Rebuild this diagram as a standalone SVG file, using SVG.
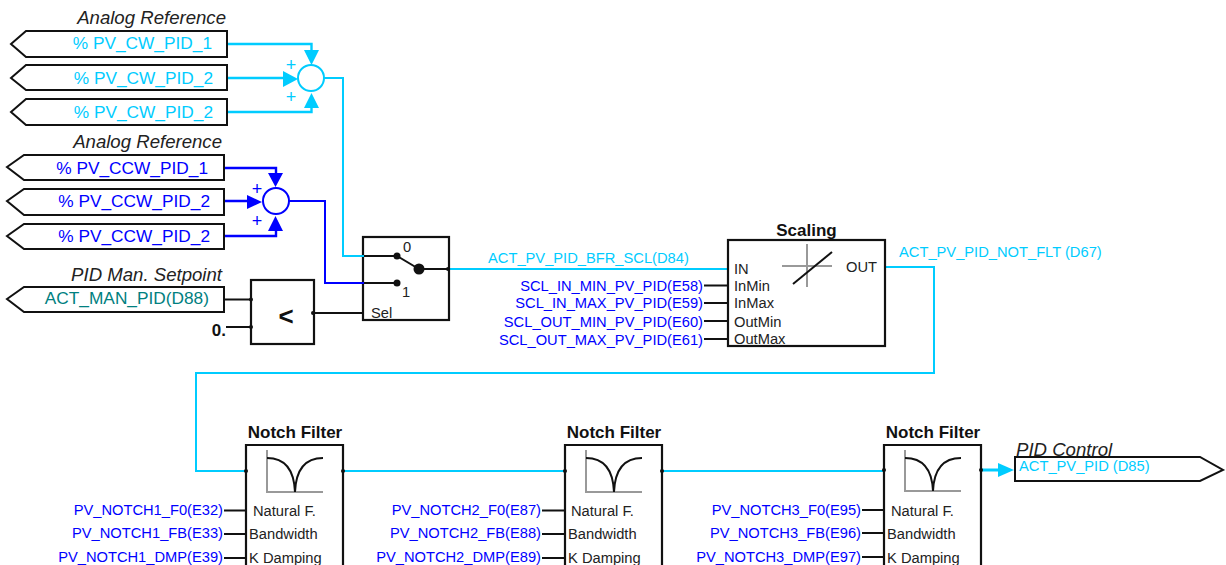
<svg xmlns="http://www.w3.org/2000/svg" width="1226" height="565" viewBox="0 0 1226 565">
<style>
text{font-family:"Liberation Sans",Arial,sans-serif;font-size:14.700px}
.it{font-style:italic;fill:#222;font-size:18.600px}
.b{font-weight:bold;fill:#111;font-size:17px}
.cy{fill:#00ccff}.bl{fill:#0000ff}.te{fill:#008080}
.k{fill:#222}.s{font-size:14.700px}
.e{text-anchor:end}
.big{font-size:17.300px}
.pl{font-size:18px;text-anchor:middle}
.tag{fill:#fff;stroke:#111;stroke-width:2}
.box{fill:#fff;stroke:#111;stroke-width:2.200}
.lc{fill:none;stroke:#00ccff;stroke-width:2}
.lb{fill:none;stroke:#0000ff;stroke-width:2}
.lk{fill:none;stroke:#111;stroke-width:1.800}
.g{fill:none;stroke:#999;stroke-width:2}
.ac{fill:#00ccff}.ab{fill:#0000ff}.d{fill:#111}
</style>
<g id="connectors">
<path class="lc" style="stroke-width:2.400" d="M227 44H311.500V52M227 78H285M227 112H311.500V106"/>
<path class="lc" d="M324 78H343V256H363"/>
<path class="lb" style="stroke-width:2.400" d="M224 168H276V175M224 201H249M224 236H276V229"/>
<path class="lb" d="M289 201H325V283H363"/>
<path class="lk" d="M224 299.500H251M226 327H251M313 313H363"/>
<path class="lc" d="M449 269H728"/>
<path class="lk" d="M704 285.500H728M704 303H728M704 321H728M704 339H728"/>
<path class="lc" d="M885 267H934V373H196V471H246"/>
<path class="lc" d="M343 471H565M662 471H884"/>
<path class="lc" style="stroke-width:3" d="M981 470H1000"/>
<path class="lk" d="M224 510.500H246M224 534H246M224 558H246M542 510.500H565M542 534H565M542 558H565M862 510H884M862 533H884M862 557H884"/>
<path class="ac" d="M304 50H319L311.500 65ZM283 71L298 79L283 87ZM304 108H319L311.500 93Z"/>
<path class="ab" d="M268 173H283L275.500 187ZM247 195L262 202L247 209ZM268 231H283L275.500 216Z"/>
<path class="ac" d="M998 463L1014 470L998 477Z"/>
</g>
<g id="sum-cw"><circle cx="311" cy="78" r="13" fill="#fff" stroke="#00ccff" stroke-width="2"/><text class="cy pl" x="291" y="71">+</text><text class="cy pl" x="291" y="103">+</text></g>
<g id="sum-ccw"><circle cx="276" cy="201" r="13" fill="#fff" stroke="#0000ff" stroke-width="2"/><text class="bl pl" x="257" y="195">+</text><text class="bl pl" x="257" y="227">+</text></g>
<g id="tags-cw">
<text class="it e" x="226" y="24">Analog Reference</text>
<path class="tag" d="M11 44L26 31H227V57H26Z"/><text class="cy e big" x="212" y="49">% PV_CW_PID_1</text>
<path class="tag" d="M11 78L26 65H227V90H26Z"/><text class="cy e big" x="213" y="84">% PV_CW_PID_2</text>
<path class="tag" d="M11 112L26 99H227V125H26Z"/><text class="cy e big" x="213" y="118">% PV_CW_PID_2</text>
</g>
<g id="tags-ccw">
<text class="it e" x="222" y="148">Analog Reference</text>
<path class="tag" d="M7 167L24 155H224V180H24Z"/><text class="bl e big" x="208" y="174">% PV_CCW_PID_1</text>
<path class="tag" d="M7 201L24 189H224V215H24Z"/><text class="bl e big" x="210" y="207">% PV_CCW_PID_2</text>
<path class="tag" d="M7 236L24 224H224V249H24Z"/><text class="bl e big" x="210" y="242">% PV_CCW_PID_2</text>
</g>
<g id="tag-man">
<text class="it e" x="222" y="281">PID Man. Setpoint</text>
<path class="tag" d="M7 299L24 287H224V312H24Z"/><text class="te e big" x="209" y="304">ACT_MAN_PID(D88)</text>
</g>
<g id="compare">
<rect class="box" x="251" y="280" width="63" height="64"/>
<text x="286" y="325" text-anchor="middle" style="font-size:26px;font-weight:bold;fill:#111">&lt;</text>
<text class="b e" x="226" y="336">0.</text>
<circle class="d" cx="251" cy="299.500" r="2"/><circle class="d" cx="251" cy="327" r="2"/><circle class="d" cx="313" cy="313" r="2"/>
</g>
<g id="selector">
<rect class="box" x="363" y="237" width="86" height="83"/>
<path class="lc" d="M362 256H364"/>
<path class="lb" d="M362 283H364"/>
<path class="lk" d="M364 256H397L419 269H449M364 283H397"/>
<circle class="d" cx="397" cy="256" r="3.500"/><circle class="d" cx="397" cy="283" r="3.500"/><circle class="d" cx="419" cy="269" r="5.500"/><circle class="d" cx="448" cy="269" r="2"/>
<text class="k s" x="403" y="252">0</text><text class="k s" x="402" y="297">1</text><text class="k s" x="371" y="318">Sel</text>
</g>
<g id="scaling">
<text class="b" x="806.500" y="236" text-anchor="middle">Scaling</text>
<rect class="box" x="728" y="240" width="157" height="106"/>
<path class="g" d="M782 266H832M807 244V287"/><path class="lk" style="stroke-width:2" d="M793 284L832 252"/>
<text class="k s" x="734" y="274">IN</text><text class="k s" x="734" y="291">InMin</text><text class="k s" x="734" y="308">InMax</text><text class="k s" x="734" y="327">OutMin</text><text class="k s" x="734" y="344">OutMax</text>
<text class="k e" x="877" y="272">OUT</text>
</g>
<g id="labels-scaling">
<text class="cy" x="488" y="263">ACT_PV_PID_BFR_SCL(D84)</text>
<text class="bl e" x="703" y="291">SCL_IN_MIN_PV_PID(E58)</text>
<text class="bl e" x="703" y="308">SCL_IN_MAX_PV_PID(E59)</text>
<text class="bl e" x="703" y="327">SCL_OUT_MIN_PV_PID(E60)</text>
<text class="bl e" x="703" y="345">SCL_OUT_MAX_PV_PID(E61)</text>
<text class="cy" x="899" y="257">ACT_PV_PID_NOT_FLT (D67)</text>
</g>
<g id="notch1">
<text class="b" x="295" y="438" text-anchor="middle">Notch Filter</text>
<path class="box" d="M246 567V445H343V567"/>
<path class="g" d="M267 450V492H323"/><path class="lk" style="stroke-width:2" d="M267 458C284 458 294 468 295 492C296 468 306 458 323 458"/>
<circle class="d" cx="246" cy="471" r="2"/><circle class="d" cx="343" cy="471" r="2"/>
<text class="k s" x="253" y="516">Natural F.</text><text class="k s" x="249" y="539">Bandwidth</text><text class="k s" x="249" y="563">K Damping</text>
<text class="bl e" x="223" y="515">PV_NOTCH1_F0(E32)</text><text class="bl e" x="223" y="538">PV_NOTCH1_FB(E33)</text><text class="bl e" x="223" y="562">PV_NOTCH1_DMP(E39)</text>
</g>
<g id="notch2">
<text class="b" x="614" y="438" text-anchor="middle">Notch Filter</text>
<path class="box" d="M565 567V445H662V567"/>
<path class="g" d="M586 450V492H642"/><path class="lk" style="stroke-width:2" d="M586 458C603 458 613 468 614 492C615 468 625 458 642 458"/>
<circle class="d" cx="565" cy="471" r="2"/><circle class="d" cx="662" cy="471" r="2"/>
<text class="k s" x="571" y="516">Natural F.</text><text class="k s" x="568" y="539">Bandwidth</text><text class="k s" x="568" y="563">K Damping</text>
<text class="bl e" x="541" y="515">PV_NOTCH2_F0(E87)</text><text class="bl e" x="541" y="538">PV_NOTCH2_FB(E88)</text><text class="bl e" x="541" y="562">PV_NOTCH2_DMP(E89)</text>
</g>
<g id="notch3">
<text class="b" x="933" y="438" text-anchor="middle">Notch Filter</text>
<path class="box" d="M884 567V445H981V567"/>
<path class="g" d="M905 450V491H961"/><path class="lk" style="stroke-width:2" d="M905 458C922 458 932 468 933 491C934 468 944 458 961 458"/>
<circle class="d" cx="884" cy="470" r="2"/><circle class="d" cx="981" cy="470" r="2"/>
<text class="k s" x="891" y="516">Natural F.</text><text class="k s" x="887" y="539">Bandwidth</text><text class="k s" x="887" y="563">K Damping</text>
<text class="bl e" x="861" y="515">PV_NOTCH3_F0(E95)</text><text class="bl e" x="861" y="538">PV_NOTCH3_FB(E96)</text><text class="bl e" x="861" y="562">PV_NOTCH3_DMP(E97)</text>
</g>
<g id="tag-pid">
<text class="it" x="1016" y="456">PID Control</text>
<path class="tag" style="fill:none" d="M1015 457H1200L1223 470L1200 481H1015Z"/>
<text class="cy" x="1019" y="471">ACT_PV_PID (D85)</text>
</g>
</svg>
